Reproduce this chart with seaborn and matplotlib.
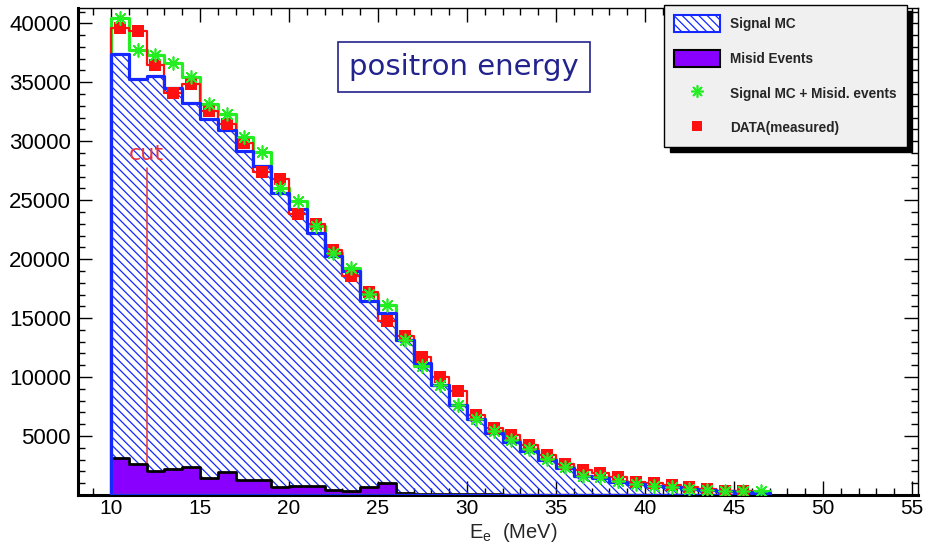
import numpy as np
import pandas as pd
import matplotlib
matplotlib.use("Agg")
import matplotlib.pyplot as plt
import seaborn as sns
from matplotlib.patches import Patch
from matplotlib.lines import Line2D
from matplotlib.ticker import MultipleLocator

# ---------------- data ----------------
bin_edges = list(range(10, 48))  # 1 MeV bins, 10..47 MeV

signal_mc = [37430, 35300, 35530, 34500, 33230, 31890, 30950, 29200, 27860, 25650,
             24220, 22240, 20250, 19030, 16470, 15420, 13150, 11160, 9370, 7670,
             6480, 5280, 4490, 3690, 2980, 2270, 1650, 1420, 1130, 940,
             790, 650, 510, 430, 330, 250, 200]

misid_events = [3150, 2640, 2070, 2220, 2410, 1420, 1930, 1300, 1300, 650,
                790, 790, 450, 370, 650, 1000, 150, 120, 100, 80,
                60, 50, 40, 30, 30, 20, 20, 10, 10, 10,
                0, 0, 0, 0, 0, 0, 0]

signal_plus_misid = [40410, 37720, 37340, 36640, 35440, 33170, 32290, 30330, 29050, 26070,
                     24960, 22810, 20530, 19250, 17040, 16130, 13150, 10970, 9310, 7670,
                     6480, 5390, 4630, 3860, 3070, 2360, 1650, 1500, 1220, 940,
                     790, 650, 510, 450, 370, 330, 300]

data_measured = [39640, 39360, 36440, 34080, 34870, 32550, 31460, 29820, 27350, 26780,
                 23800, 22950, 20810, 18550, 17210, 14770, 13520, 11670, 10030, 8800,
                 6820, 5680, 5050, 4260, 3410, 2640, 2160, 1850, 1500, 1130,
                 1000, 850, 650, 510, 370, 370]

x_ticks = [10, 15, 20, 25, 30, 35, 40, 45, 50, 55]
y_ticks = [5000, 10000, 15000, 20000, 25000, 30000, 35000, 40000]
cut_value = 12.0

# ---------------- style ----------------
sns.set_theme(style="ticks")
plt.rcParams['font.family'] = ['Liberation Sans', 'DejaVu Sans']
plt.rcParams['mathtext.default'] = 'regular'
plt.rcParams['hatch.linewidth'] = 0.9

edges = np.array(bin_edges, dtype=float)
centers = (edges[:-1] + edges[1:]) / 2
df = pd.DataFrame({"E": centers, "sig": signal_mc, "mis": misid_events,
                   "sum": signal_plus_misid})
df_data = pd.DataFrame({"E": centers[:len(data_measured)], "data": data_measured})
data_edges = bin_edges[:len(data_measured) + 1]

fig = plt.figure(figsize=(9.27, 5.43), dpi=100)
ax = fig.add_axes([78 / 927, 1 - 495 / 543, (918 - 78) / 927, (495 - 8) / 543])

BLUE = "#1428ff"
PURPLE = "#8a00ff"
GREEN = "#22ee22"
RED = "#ff1010"
HATCH = "\\\\\\\\"

# Signal MC: hatched fill
sns.histplot(data=df, x="E", weights="sig", bins=bin_edges, element="step", fill=True,
             color=BLUE, facecolor="none", edgecolor=BLUE, hatch=HATCH, linewidth=0,
             ax=ax, zorder=1)

# cut line
ax.plot([cut_value, cut_value], [0, 27700], color="#e8343c", lw=1.1, zorder=1.5)
ax.text(cut_value, 28900, "cut", color="#e8343c", fontsize=16, ha="center", va="center",
        family="DejaVu Sans", zorder=1.5)

# Misid events: purple fill with black outline
sns.histplot(data=df, x="E", weights="mis", bins=bin_edges, element="step", fill=True,
             color=PURPLE, facecolor=PURPLE, edgecolor="black", linewidth=2.0, alpha=1,
             ax=ax, zorder=2)

# Signal MC + misid: green step line
sns.histplot(data=df, x="E", weights="sum", bins=bin_edges, element="step", fill=True,
             color=GREEN, facecolor="none", edgecolor=GREEN, linewidth=2.3, ax=ax, zorder=3)

# Data: red step line
sns.histplot(data=df_data, x="E", weights="data", bins=data_edges,
             element="step", fill=True, color=RED, facecolor="none", edgecolor=RED,
             linewidth=1.6, ax=ax, zorder=3.5)

# Blue outline on top
sns.histplot(data=df, x="E", weights="sig", bins=bin_edges, element="step", fill=True,
             color=BLUE, facecolor="none", edgecolor=BLUE, linewidth=2.3, ax=ax, zorder=4)

# markers
sns.scatterplot(data=df_data, x="E", y="data", marker="s", s=68, color=RED,
                linewidth=0, ax=ax, zorder=5, legend=False)
sns.scatterplot(data=df, x="E", y="sum", marker=(8, 2, 0), s=85, color=GREEN,
                linewidth=1.2, ax=ax, zorder=6, legend=False)

# ---------------- axes ----------------
ax.set_xlim(8.146, 55.34)
ax.set_ylim(0, 41300)
ax.set_xticks(x_ticks)
ax.set_xticklabels([str(t) for t in x_ticks])
ax.set_yticks(y_ticks)
ax.set_yticklabels([str(t) for t in y_ticks])
ax.xaxis.set_minor_locator(MultipleLocator(1))
ax.yaxis.set_minor_locator(MultipleLocator(1000))
ax.tick_params(which="both", direction="in", top=True, right=True, color="black",
               labelcolor="black")
ax.tick_params(which="major", length=10, width=1.0, pad=5)
ax.tick_params(which="minor", length=5, width=1.0)
ax.tick_params(axis="y", labelsize=16)
ax.tick_params(axis="x", labelsize=15, pad=3)
for side in ["left", "bottom"]:
    ax.spines[side].set_linewidth(2.2)
for side in ["top", "right"]:
    ax.spines[side].set_linewidth(1.0)
for sp in ax.spines.values():
    sp.set_color("black")
ax.set_xlabel("E$_{e}$  (MeV)", fontsize=14.5)
ax.xaxis.set_label_coords((513 - 78) / 840, (495 - 521) / 487)
ax.set_ylabel("")
ax.grid(False)

# title box
ax.text(0.4595, 0.879, "positron energy", transform=ax.transAxes, fontsize=21,
        color="#23238e", ha="center", va="center", family="DejaVu Sans",
        bbox=dict(boxstyle="square,pad=0.38", facecolor="white", edgecolor="#23238e",
                  linewidth=1.2), zorder=7)

# legend
handles = [
    Patch(facecolor="white", edgecolor=BLUE, hatch=HATCH, linewidth=1.5),
    Patch(facecolor=PURPLE, edgecolor="black", linewidth=1.5),
    Line2D([], [], linestyle="none", marker=(8, 2, 0), markersize=9,
           markeredgecolor=GREEN, color=GREEN, markeredgewidth=1.2),
    Line2D([], [], linestyle="none", marker="s", markersize=7.5, color=RED,
           markeredgewidth=0),
]
labels = ["Signal MC", "Misid Events", "Signal MC + Misid. events", "DATA(measured)"]
leg = ax.legend(handles, labels, loc="upper left",
                bbox_to_anchor=(664 / 927, 1 - 5 / 543), bbox_transform=fig.transFigure,
                borderaxespad=0, frameon=True, fancybox=False,
                shadow={"color": "black", "alpha": 1.0, "ox": 4, "oy": -4},
                prop={"weight": "bold", "size": 9.8, "family": "Liberation Sans"},
                handlelength=3.4, handleheight=1.55, labelspacing=1.3,
                borderpad=0.75, handletextpad=0.7)
leg.get_frame().set_facecolor("#f0f0f0")
leg.get_frame().set_edgecolor("black")
leg.get_frame().set_linewidth(1.0)
leg.set_zorder(10)

fig.savefig("out.png", dpi=100)
